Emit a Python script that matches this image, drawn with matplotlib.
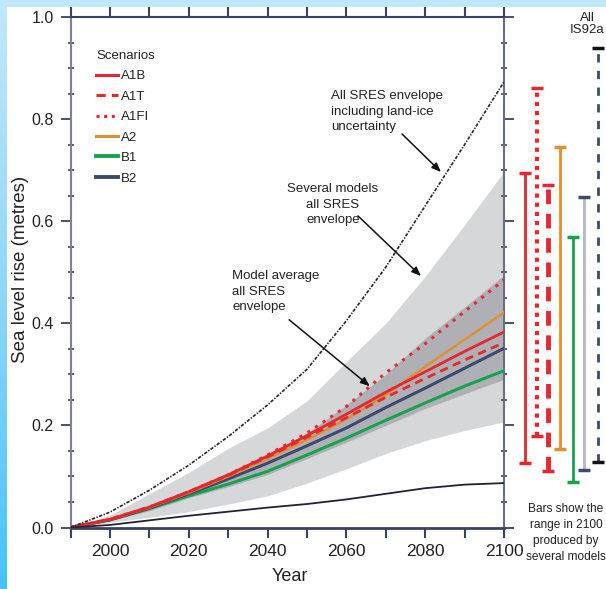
import numpy as np
import matplotlib
matplotlib.use("Agg")
import matplotlib.pyplot as plt
from matplotlib import font_manager as fm
from matplotlib.ticker import MultipleLocator, FuncFormatter
from matplotlib.colors import LinearSegmentedColormap
from matplotlib.lines import Line2D

names = {f.name for f in fm.fontManager.ttflist}
FONT = 'Liberation Sans Narrow' if 'Liberation Sans Narrow' in names else 'Liberation Sans'
plt.rcParams['font.family'] = [FONT, 'DejaVu Sans']

# ---------------- data ----------------
years = [1990, 2000, 2010, 2020, 2030, 2040, 2050, 2060, 2070, 2080, 2090, 2100]

land_ice_upper = [0, 0.030, 0.073, 0.122, 0.178, 0.240, 0.310, 0.405, 0.510, 0.630, 0.750, 0.873]
lower_bound    = [0, 0.005, 0.014, 0.023, 0.031, 0.039, 0.046, 0.055, 0.066, 0.077, 0.084, 0.087]

several_upper = [0, 0.024, 0.066, 0.108, 0.155, 0.195, 0.248, 0.325, 0.400, 0.492, 0.593, 0.697]
several_lower = [0, 0.010, 0.020, 0.031, 0.046, 0.062, 0.087, 0.115, 0.145, 0.170, 0.190, 0.207]

avg_upper = [0, 0.017, 0.042, 0.074, 0.107, 0.142, 0.185, 0.240, 0.300, 0.371, 0.432, 0.494]
avg_lower = [0, 0.013, 0.033, 0.058, 0.080, 0.104, 0.135, 0.167, 0.200, 0.233, 0.262, 0.290]

scenarios = ['A1B', 'A1T', 'A1FI', 'A2', 'B1', 'B2']
A1B  = [0, 0.016, 0.040, 0.070, 0.103, 0.140, 0.180, 0.222, 0.265, 0.305, 0.345, 0.383]
A1T  = [0, 0.016, 0.040, 0.070, 0.102, 0.138, 0.177, 0.215, 0.255, 0.292, 0.328, 0.362]
A1FI = [0, 0.016, 0.040, 0.070, 0.103, 0.142, 0.185, 0.237, 0.303, 0.360, 0.423, 0.485]
A2   = [0, 0.016, 0.039, 0.068, 0.100, 0.135, 0.172, 0.212, 0.260, 0.315, 0.368, 0.421]
B1   = [0, 0.015, 0.037, 0.062, 0.085, 0.110, 0.142, 0.175, 0.210, 0.244, 0.277, 0.307]
B2   = [0, 0.015, 0.038, 0.066, 0.095, 0.126, 0.160, 0.195, 0.235, 0.273, 0.312, 0.351]

bar_names = ['A1B', 'A1FI', 'A1T', 'A2', 'B1', 'B2', 'IS92a']
bar_low   = [0.127, 0.180, 0.110, 0.153, 0.090, 0.112, 0.129]
bar_high  = [0.694, 0.861, 0.671, 0.745, 0.569, 0.647, 0.939]

# ---------------- styles ----------------
RED = '#e8262d'
ORANGE = '#e0902f'
GREEN = '#17a34e'
NAVY = '#3b4a6e'
SPINE = '#3a4262'
TXT = '#222222'

W, H = 606, 589
fig = plt.figure(figsize=(W / 100, H / 100), dpi=100)
fig.patch.set_facecolor('white')

# blue frame strips
grad = np.linspace(0, 1, 256).reshape(-1, 1)
cm = LinearSegmentedColormap.from_list('b', ['#c2e8fb', '#8fd6f8', '#45c4f4'])
axl = fig.add_axes([0, 0, 7 / W, 1])
axl.imshow(grad, aspect='auto', cmap=cm, extent=[0, 1, 0, 1], origin='upper')
axl.axis('off')
axt = fig.add_axes([0, 1 - 7 / H, 1, 7 / H])
axt.set_facecolor('#c0e7fb')
axt.set_xticks([]); axt.set_yticks([])
for s in axt.spines.values():
    s.set_visible(False)

x0, x1 = 70.5, 504.0
ytop, ybot = 17.0, 527.5
ax = fig.add_axes([x0 / W, 1 - ybot / H, (x1 - x0) / W, (ybot - ytop) / H])
ax.set_xlim(1990, 2100)
ax.set_ylim(0, 1.0)

ax.fill_between(years, several_lower, several_upper, color='#d6d7d9', lw=0, zorder=1)
ax.fill_between(years, avg_lower, avg_upper, color='#aeb0b5', lw=0, zorder=2)

ax.plot(years, B1, color=GREEN, lw=2.2, zorder=3)
ax.plot(years, B2, color=NAVY, lw=2.2, zorder=3)
ax.plot(years, A2, color=ORANGE, lw=1.8, zorder=4)
ax.plot(years, A1T, color=RED, lw=2.0, ls=(0, (3, 2)), zorder=4)
ax.plot(years, A1B, color=RED, lw=2.0, zorder=5)
ax.plot(years, A1FI, color=RED, lw=2.2, ls=(0, (1, 2)), zorder=5)

ax.plot(years, land_ice_upper, color='#222233', lw=1.2, ls=(0, (2.0, 0.9, 0.8, 0.9)), zorder=6)
ax.plot(years, lower_bound, color='#222233', lw=1.3, zorder=6)

# legend
handles = [
    Line2D([], [], color=RED, lw=2.2),
    Line2D([], [], color=RED, lw=2.2, ls=(0, (3, 2))),
    Line2D([], [], color=RED, lw=2.2, ls=(0, (1, 1.5))),
    Line2D([], [], color=ORANGE, lw=2.2),
    Line2D([], [], color=GREEN, lw=2.8),
    Line2D([], [], color=NAVY, lw=2.8),
]
leg = ax.legend(handles, scenarios, title='Scenarios', loc='upper left',
                bbox_to_anchor=((96 - x0) / (x1 - x0), 1 - (50 - ytop) / (ybot - ytop)),
                frameon=False, fontsize=9.5, title_fontsize=9.5,
                handlelength=1.65, handletextpad=0.25, labelspacing=0.62,
                borderpad=0, borderaxespad=0, alignment='left')
for t in leg.get_texts():
    t.set_color(TXT)
leg.get_title().set_color(TXT)

# axes styling
for side in ['top', 'right', 'bottom', 'left']:
    ax.spines[side].set_color(SPINE)
ax.spines['bottom'].set_linewidth(2.0)
ax.spines['left'].set_linewidth(1.5)
ax.spines['left'].set_color('#80838f')
ax.spines['top'].set_linewidth(1.5)
ax.spines['right'].set_linewidth(1.5)
ax.spines['right'].set_color('#6a6f80')

ax.xaxis.set_major_locator(MultipleLocator(10))
ax.xaxis.set_major_formatter(FuncFormatter(
    lambda v, p: f'{int(round(v))}' if int(round(v)) % 20 == 0 and v > 1990 else ''))
ax.yaxis.set_major_locator(MultipleLocator(0.2))
ax.yaxis.set_minor_locator(MultipleLocator(0.05))
ax.yaxis.set_major_formatter(FuncFormatter(lambda v, p: f'{v:.1f}'))
ax.tick_params(axis='x', which='major', direction='out', length=7, width=1.5, color=SPINE,
               top=True, labeltop=False, labelsize=12.5, pad=5, labelcolor=TXT)
ax.tick_params(axis='y', which='major', direction='out', length=7, width=1.3, color=SPINE,
               right=True, labelright=False, labelsize=11.5, pad=5, labelcolor=TXT)
ax.tick_params(axis='y', which='minor', direction='inout', length=5, width=1.2, color=SPINE, right=True)

ax.set_xlabel('Year', fontsize=13, color=TXT)
ax.xaxis.set_label_coords((290 - x0) / (x1 - x0), -(568 - ybot) / (ybot - ytop))
ax.set_ylabel('Sea level rise (metres)', fontsize=13.5, color=TXT)
ax.yaxis.set_label_coords(-(x0 - 29.5) / (x1 - x0), 0.505)


def px(xp, yp):
    """pixel position -> data coordinates"""
    return (1990 + (xp - x0) / (x1 - x0) * 110, (ybot - yp) / (ybot - ytop))


tkw = dict(fontsize=9.5, color=TXT, linespacing=1.4, zorder=7)
ax.text(*px(331, 90), 'All SRES envelope\nincluding land-ice\nuncertainty', ha='left', va='top', **tkw)
ax.text(*px(333, 183), 'Several models\nall SRES\nenvelope', ha='center', va='top', **tkw)
ax.text(*px(232, 270), 'Model average\nall SRES\nenvelope', ha='left', va='top', **tkw)

akw = dict(arrowstyle='-|>,head_length=0.55,head_width=0.22', color='#111111', lw=1.1)
ax.annotate('', xy=px(443, 174), xytext=px(400, 132), arrowprops=akw, zorder=8)
ax.annotate('', xy=px(423, 278), xytext=px(356, 214), arrowprops=akw, zorder=8)
ax.annotate('', xy=px(372, 388), xytext=px(287, 318), arrowprops=akw, zorder=8)

# range bars in 2100 (outside the axes)
tr = ax.get_yaxis_transform()
bar_x = [525, 536.5, 548, 560, 572.5, 584, 598]
bar_style = [
    dict(color=RED, lw=2.0, ls='-'),
    dict(color=RED, lw=3.0, ls=(0, (1, 1.2))),
    dict(color=RED, lw=3.5, ls=(0, (3, 2))),
    dict(color=ORANGE, lw=2.0, ls='-'),
    dict(color=GREEN, lw=2.0, ls='-'),
    dict(color='#b9bcc6', lw=2.2, ls='-'),
    dict(color=NAVY, lw=2.0, ls=(0, (3, 3))),
]
cap_color = [RED, RED, RED, ORANGE, GREEN, NAVY, '#111111']
for xb, lo, hi, st, cc in zip(bar_x, bar_low, bar_high, bar_style, cap_color):
    xa = (xb - x0) / (x1 - x0)
    ax.plot([xa, xa], [lo, hi], transform=tr, clip_on=False, zorder=5, **st)
    ax.plot([xa, xa], [lo, hi], transform=tr, clip_on=False, ls='none', marker='_',
            ms=9, mew=2.5, color=cc, zorder=6)

ax.text((587 - x0) / (x1 - x0), 1.01, 'All\nIS92a', transform=tr, ha='center', va='top',
        fontsize=9.5, color=TXT, linespacing=1.05, clip_on=False)
ax.text((566 - x0) / (x1 - x0), 0.048, 'Bars show the\nrange in 2100\nproduced by\nseveral models',
        transform=tr, ha='center', va='top', fontsize=8.6, color=TXT,
        linespacing=1.45, clip_on=False)

fig.savefig('out.png', dpi=100)
